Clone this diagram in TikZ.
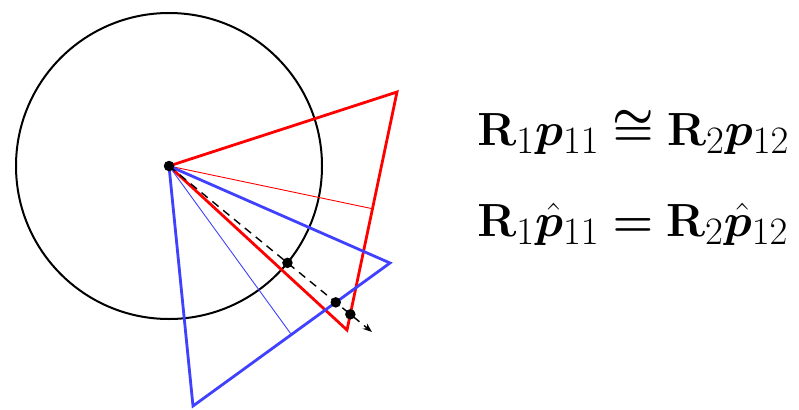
\documentclass[tikz,border=0pt]{standalone}
\usetikzlibrary{arrows.meta, calc}
\usepackage{amsmath, amssymb, bm}
\definecolor{camblue}{RGB}{64,64,255}

\begin{document}
\begin{tikzpicture}[x=1pt,y=-1pt,>=Stealth,
      cam/.style={line width=2.8pt,line join=miter},
      optaxis/.style={line width=0.9pt},
      dot/.style={circle,fill=black,inner sep=0pt,minimum size=10.5pt},
      eqn/.style={anchor=base west,inner sep=0pt,font=\Huge,scale=1.87}]
  \useasboundingbox (0,0) rectangle (799,409);
  % camera centre and the two image planes
  \coordinate (o) at (169,166);
  \coordinate (ra) at (397,92);
  \coordinate (rb) at (347,330);
  \coordinate (ba) at (390,263);
  \coordinate (bb) at (193,406);
  \coordinate (tip) at (372,332);
  \draw[line width=2pt] (o) circle[radius=153pt];
  \draw[cam,red] (o) -- (ra) -- (rb) -- cycle;
  \draw[optaxis,red] (o) -- ($(ra)!(o)!(rb)$);
  \draw[cam,camblue] (o) -- (ba) -- (bb) -- cycle;
  \draw[optaxis,camblue] (o) -- ($(ba)!(o)!(bb)$);
  \draw[->,line width=1.4pt,dash pattern=on 8pt off 6pt] (o) -- (tip);
  % points on the ray
  \node[dot] (po) at (o) {};
  \node[dot] (ps) at ($(o)!153pt!(tip)$) {};
  \node[dot] (pb) at (intersection of o--tip and ba--bb) {};
  \node[dot] (pr) at (intersection of o--tip and ra--rb) {};
  % equations
  \node[eqn] (eq1) at (477,145) {$\mathbf{R}_1\bm{p}_{11}\bm{\cong}\mathbf{R}_2\bm{p}_{12}$};
  \node[eqn] (eq2) at (477,236) {$\mathbf{R}_1\hat{\bm{p}}_{11}\bm{=}\mathbf{R}_2\hat{\bm{p}}_{12}$};
\end{tikzpicture}
\end{document}
